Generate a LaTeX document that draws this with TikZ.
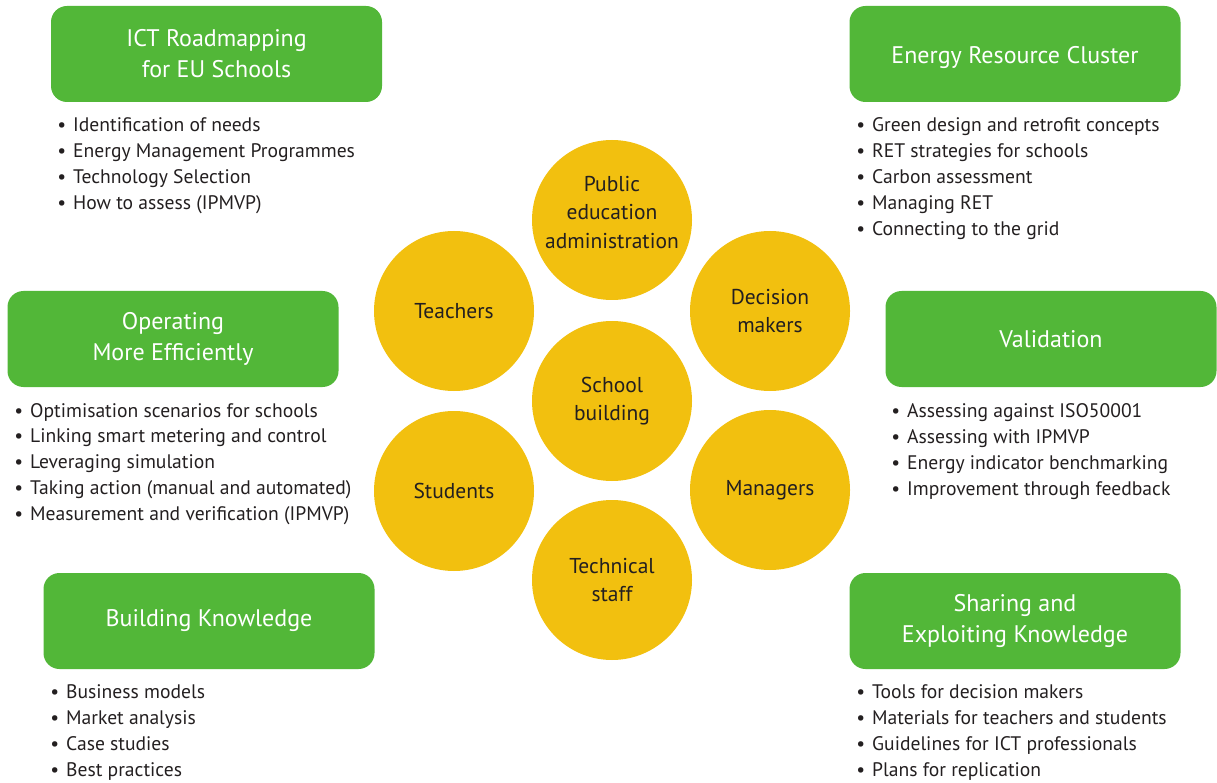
\documentclass[tikz,border=0pt]{standalone}
\usepackage{fontspec}
\setmainfont{PT Sans}
\definecolor{boxgreen}{HTML}{52B738}
\definecolor{circyellow}{HTML}{F2C00F}
\definecolor{txt}{HTML}{231F20}
\begin{document}
\begin{tikzpicture}[x=1pt,y=-1pt,
  greenbox/.style={fill=boxgreen,rounded corners=16pt,minimum width=331pt,minimum height=96pt,
    text=white,align=center,font=\fontsize{24}{31}\selectfont,inner sep=0pt},
  circ/.style={circle,fill=circyellow,minimum size=160pt,inner sep=0pt,align=center,
    text=txt,font=\fontsize{21.5}{28.5}\selectfont},
  item/.style={anchor=base west,inner sep=0pt,text=txt,font=\fontsize{19.6}{26}\selectfont}]
\useasboundingbox (0,0) rectangle (1217,783);
% green boxes
\node[greenbox] (b1) at (216.5,54) {ICT Roadmapping\\for EU Schools};
\node[greenbox] (b2) at (1015,54) {\raisebox{-4pt}[\height][\depth]{Energy Resource Cluster}};
\node[greenbox] (b3) at (173,339) {Operating\\More Efficiently};
\node[greenbox] (b4) at (1051,339) {Validation};
\node[greenbox] (b5) at (209,621) {Building Knowledge};
\node[greenbox] (b6) at (1015,621) {Sharing and\\Exploiting Knowledge};
% circles
\node[circ] (c1) at (612,220) {\raisebox{6pt}[\height][\depth]{\begin{tabular}{@{}c@{}}Public\\education\\administration\end{tabular}}};
\node[circ] (c2) at (454,311) {Teachers};
\node[circ] (c3) at (770,311) {Decision\\makers};
\node[circ] (c4) at (612,401) {School\\building};
\node[circ] (c5) at (454,491) {Students};
\node[circ] (c6) at (770,490) {Managers};
\node[circ] (c7) at (612,580) {Technical\\staff};
% bullet lists
\newcommand{\bul}{\llap{\textbullet\hspace{7pt}}}
\foreach \t [count=\i] in {Identification of needs,Energy Management Programmes,Technology Selection,How to assess (IPMVP)}
  \node[item] (la\i) at (73,{132+26*(\i-1)}) {\bul\t};
\foreach \t [count=\i] in {Green design and retrofit concepts,RET strategies for schools,Carbon assessment,Managing RET,Connecting to the grid}
  \node[item] (lb\i) at (872,{132+26*(\i-1)}) {\bul\t};
\foreach \t [count=\i] in {Optimisation scenarios for schools,Linking smart metering and control,Leveraging simulation,Taking action (manual and automated),Measurement and verification (IPMVP)}
  \node[item] (lc\i) at (30,{417+25.8*(\i-1)}) {\bul\t};
\foreach \t [count=\i] in {Assessing against ISO50001,Assessing with IPMVP,Energy indicator benchmarking,Improvement through feedback}
  \node[item] (ld\i) at (907,{417+26*(\i-1)}) {\bul\t};
\foreach \t [count=\i] in {Business models,Market analysis,Case studies,Best practices}
  \node[item] (le\i) at (66,{698+26*(\i-1)}) {\bul\t};
\foreach \t [count=\i] in {Tools for decision makers,Materials for teachers and students,Guidelines for ICT professionals,Plans for replication}
  \node[item] (lf\i) at (872,{698+26*(\i-1)}) {\bul\t};
\end{tikzpicture}
\end{document}
